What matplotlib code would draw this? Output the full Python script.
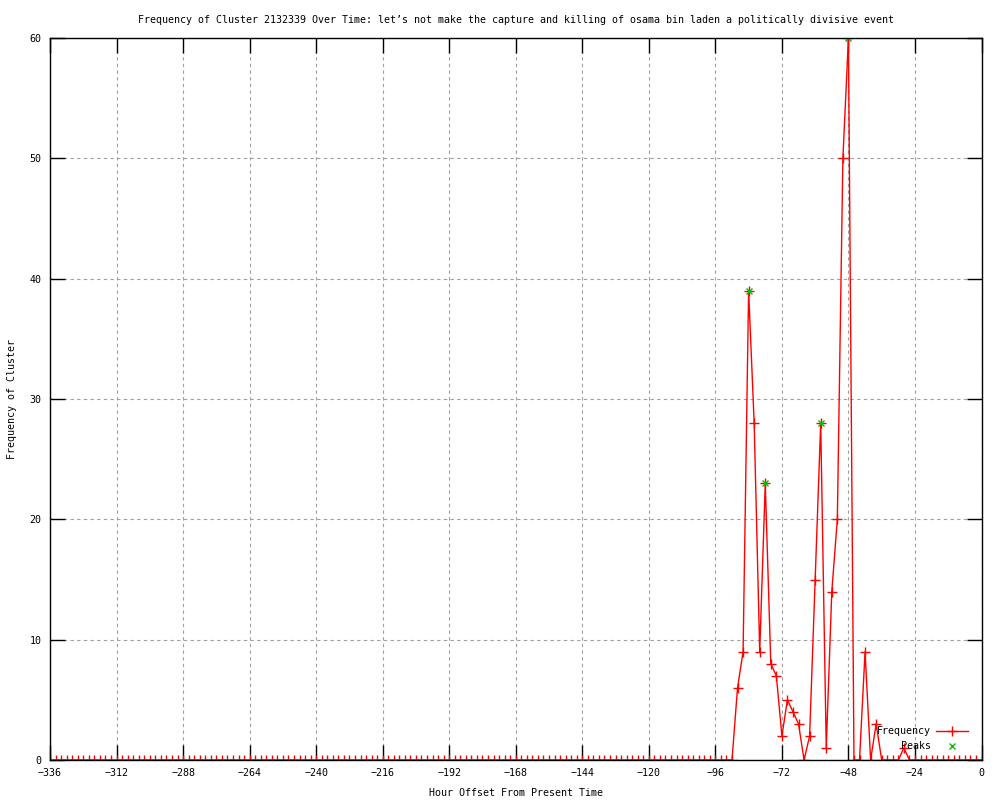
import numpy as np
import matplotlib
matplotlib.use('Agg')
import matplotlib.pyplot as plt

plt.rcParams['font.family'] = ['DejaVu Sans Mono']
plt.rcParams['font.size'] = 7.2

# hour offsets, one point every 2 hours
hours = np.arange(-336, 1, 2)
freq = ([0] * 124 +
        [6, 9, 39, 28, 9, 23, 8, 7, 2, 5, 4, 3, 0, 2, 15, 28, 1, 14, 20, 50,
         60, 0, 0, 9, 0, 3, 0, 0, 0, 0, 1, 0] +
        [0] * 13)

peak_hours = [-84, -78, -58, -48]
peak_vals = [39, 23, 28, 60]

title = ("Frequency of Cluster 2132339 Over Time: let\u2019s not make the capture "
         "and killing of osama bin laden a politically divisive event")

fig = plt.figure(figsize=(10, 8), dpi=100)
ax = fig.add_axes([0.05, 0.05, 0.9315, 0.9025])

ax.plot(hours, freq, color='red', lw=1, marker='+', ms=6.5, mew=1,
        label='Frequency')
ax.plot(peak_hours, peak_vals, ls='none', marker='x', color='#00c000',
        ms=5, mew=1, label='Peaks')

ax.set_xlim(-336, 0)
ax.set_ylim(0, 60)
ax.set_xticks(np.arange(-336, 1, 24))
ax.set_yticks(np.arange(0, 61, 10))
ax.tick_params(direction='in', length=11, width=1, top=True, right=True,
               color='black', pad=6)
ax.grid(True, color='#a0a0a0', linestyle=(0, (3, 3)), linewidth=0.8)
for s in ax.spines.values():
    s.set_linewidth(1)

ax.set_title(title, fontsize=7.2, pad=11)
ax.set_xlabel('Hour Offset From Present Time', labelpad=7)
ax.set_ylabel('Frequency of Cluster', labelpad=9)

ax.legend(loc='lower right', bbox_to_anchor=(0.995, 0.0), frameon=False,
          markerfirst=False, handlelength=3.2, handletextpad=0.5,
          labelspacing=0.45, borderaxespad=0.5)

fig.savefig('out.png', dpi=100)
